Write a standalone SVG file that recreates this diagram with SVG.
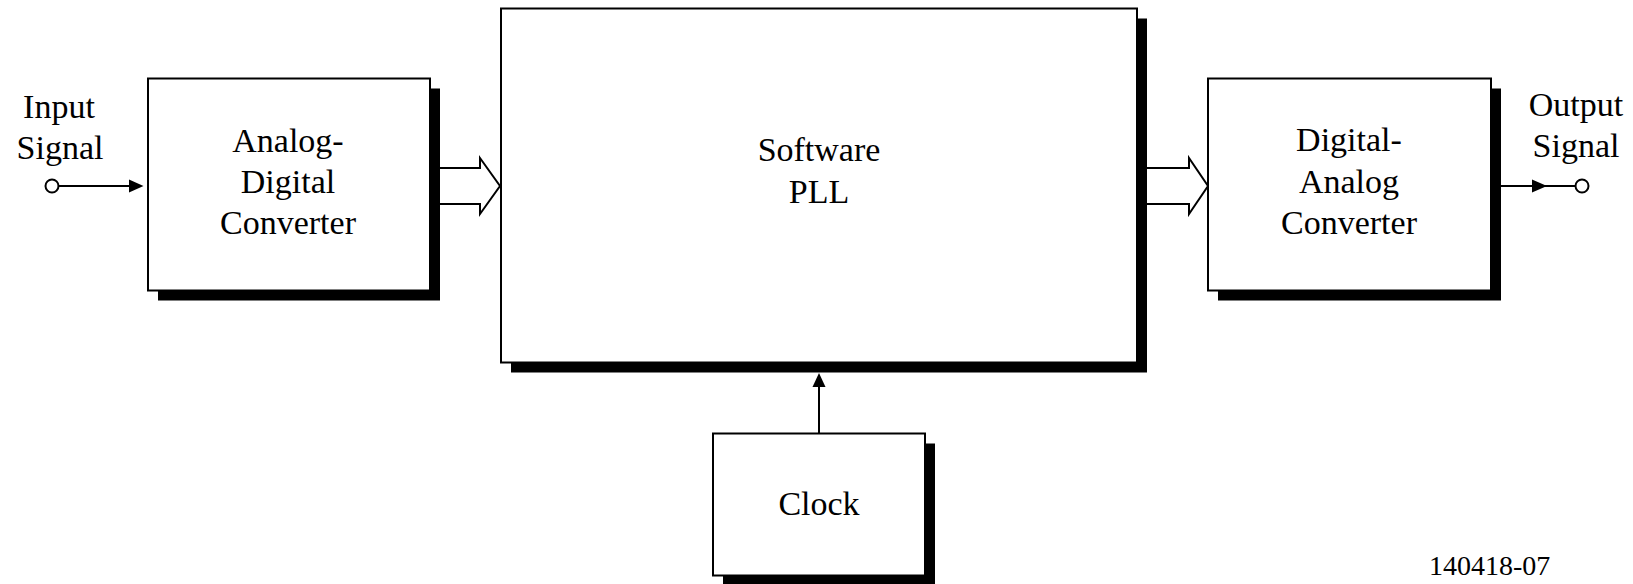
<svg xmlns="http://www.w3.org/2000/svg" width="1633" height="584" viewBox="0 0 1633 584">
<style>
  .box { fill: #ffffff; stroke: #000000; stroke-width: 2; }
  .shadow { fill: #000000; stroke: none; }
  .lbl { font-family: "Liberation Serif", "Times New Roman", serif; font-size: 34px; fill: #000000; text-anchor: middle; }
  .wire { fill: none; stroke: #000000; stroke-width: 2; }
  .fat { fill: #ffffff; stroke: #000000; stroke-width: 2; stroke-linejoin: miter; }
  .head { fill: #000000; stroke: none; }
  .term { fill: #ffffff; stroke: #000000; stroke-width: 2; }
</style>
<rect x="0" y="0" width="1633" height="584" fill="#ffffff"/>

<g id="connectors">
  <!-- input -->
  <line class="wire" x1="58.5" y1="186" x2="132" y2="186"/>
  <polygon class="head" points="129,179.5 143.5,186 129,192.5"/>
  <!-- ADC to PLL fat arrow -->
  <path class="fat" d="M440,168 H480 V158 L500,186 L480,214 V204 H440"/>
  <!-- PLL to DAC fat arrow -->
  <path class="fat" d="M1147,168 H1189 V158 L1208,186 L1189,214 V204 H1147"/>
  <!-- output -->
  <line class="wire" x1="1501" y1="186" x2="1575.5" y2="186"/>
  <polygon class="head" points="1532,179.5 1547,186 1532,192.5"/>
  <!-- clock to PLL -->
  <line class="wire" x1="819" y1="433" x2="819" y2="384"/>
  <polygon class="head" points="812.5,387 819,373 825.5,387"/>
</g>

<g id="input-terminal">
  <circle class="term" cx="52" cy="186" r="6.5"/>
  <text class="lbl" x="59" y="118">Input</text>
  <text class="lbl" x="60" y="159">Signal</text>
</g>

<g id="output-terminal">
  <circle class="term" cx="1582" cy="186" r="6.5"/>
  <text class="lbl" x="1576" y="116">Output</text>
  <text class="lbl" x="1576" y="157">Signal</text>
</g>

<g id="adc">
  <rect class="shadow" x="158" y="88.5" width="282" height="212"/>
  <rect class="box" x="148" y="78.5" width="282" height="212"/>
  <text class="lbl" x="288" y="152">Analog-</text>
  <text class="lbl" x="288" y="193">Digital</text>
  <text class="lbl" x="288" y="234">Converter</text>
</g>

<g id="pll">
  <rect class="shadow" x="511" y="18.5" width="636" height="354"/>
  <rect class="box" x="501" y="8.5" width="636" height="354"/>
  <text class="lbl" x="819" y="161">Software</text>
  <text class="lbl" x="819" y="203">PLL</text>
</g>

<g id="dac">
  <rect class="shadow" x="1218" y="88.5" width="283" height="212"/>
  <rect class="box" x="1208" y="78.5" width="283" height="212"/>
  <text class="lbl" x="1349" y="151">Digital-</text>
  <text class="lbl" x="1349" y="193">Analog</text>
  <text class="lbl" x="1349" y="234">Converter</text>
</g>

<g id="clock">
  <rect class="shadow" x="723" y="443.5" width="212" height="142"/>
  <rect class="box" x="713" y="433.5" width="212" height="142"/>
  <text class="lbl" x="819" y="515">Clock</text>
</g>

<g id="figure-id">
  <text x="1429" y="575" font-family="Liberation Serif, 'Times New Roman', serif" font-size="28" fill="#000000">140418-07</text>
</g>
</svg>
